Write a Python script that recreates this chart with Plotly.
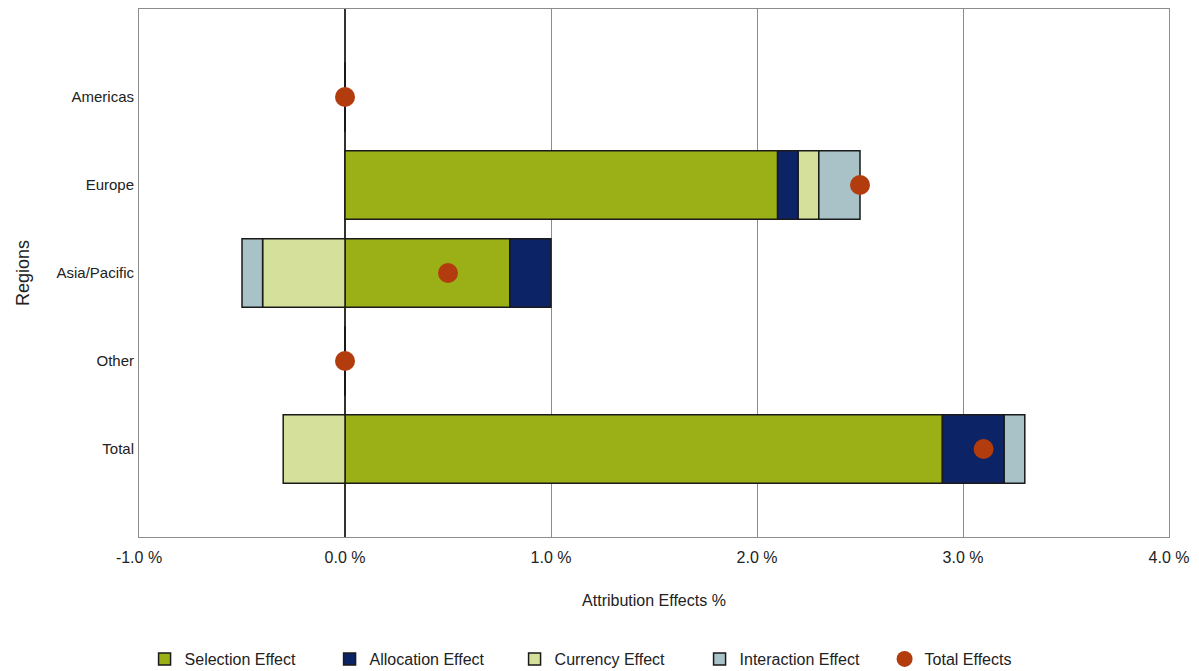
import plotly.graph_objs as go

regions = ["Americas", "Europe", "Asia/Pacific", "Other", "Total"]
selection = [0.0, 2.1, 0.8, 0.0, 2.9]
allocation = [0.0, 0.1, 0.2, 0.0, 0.3]
currency = [0.0, 0.1, -0.4, 0.0, -0.3]
interaction = [0.0, 0.2, -0.1, 0.0, 0.1]
total = [0.0, 2.5, 0.5, 0.0, 3.1]

x_ticks = [-1, 0, 1, 2, 3, 4]
x_tick_labels = ["-1.0 %", "0.0 %", "1.0 %", "2.0 %", "3.0 %", "4.0 %"]

regular = "Liberation Sans, Arial, sans-serif"

effects = [
    ("Selection Effect", selection, "#9BB016"),
    ("Allocation Effect", allocation, "#0C2366"),
    ("Currency Effect", currency, "#D5E09A"),
    ("Interaction Effect", interaction, "#A9C2C8"),
]

fig = go.Figure()
for name, values, color in effects:
    fig.add_trace(go.Bar(
        y=regions, x=values, name=name, orientation="h",
        width=0.78,
        marker=dict(color=color, line=dict(color="#1a1a1a", width=1.5)),
    ))

fig.add_trace(go.Scatter(
    y=regions, x=total, name="Total Effects", mode="markers",
    marker=dict(color="#B23C0E", size=20, symbol="circle"),
))

# page body adds ~7px offset, so the figure is a bit smaller than the window
fig.update_layout(
    barmode="relative",
    width=1191, height=663,
    margin=dict(l=131, r=30, t=1, b=134),
    plot_bgcolor="white",
    paper_bgcolor="white",
    legend=dict(
        orientation="h", xref="container", x=0.503, xanchor="center",
        yref="container", y=0.018, yanchor="middle",
        font=dict(family=regular, size=16, color="#222"),
        itemwidth=30, traceorder="normal",
        entrywidth=140,
    ),
    xaxis=dict(
        range=[-1, 4], tickvals=x_ticks, ticktext=x_tick_labels,
        showgrid=True, gridcolor="#8c8c8c", gridwidth=1,
        zeroline=True, zerolinecolor="#333", zerolinewidth=1.5,
        showline=True, linecolor="#8c8c8c", mirror=True,
        ticks="", ticklabelstandoff=6,
        tickfont=dict(family=regular, size=16, color="#222"),
        title=dict(text="Attribution Effects %", font=dict(family=regular, size=16, color="#222"), standoff=29),
    ),
    yaxis=dict(
        categoryorder="array", categoryarray=regions,
        range=[5, -1],
        showgrid=False, showline=True, linecolor="#8c8c8c", mirror=True,
        ticks="", ticklabelstandoff=1,
        tickfont=dict(family=regular, size=15, color="#222"),
        title=dict(text="Regions", font=dict(family=regular, size=18, color="#222"), standoff=22),
    ),
)

fig.write_html("out.html")
